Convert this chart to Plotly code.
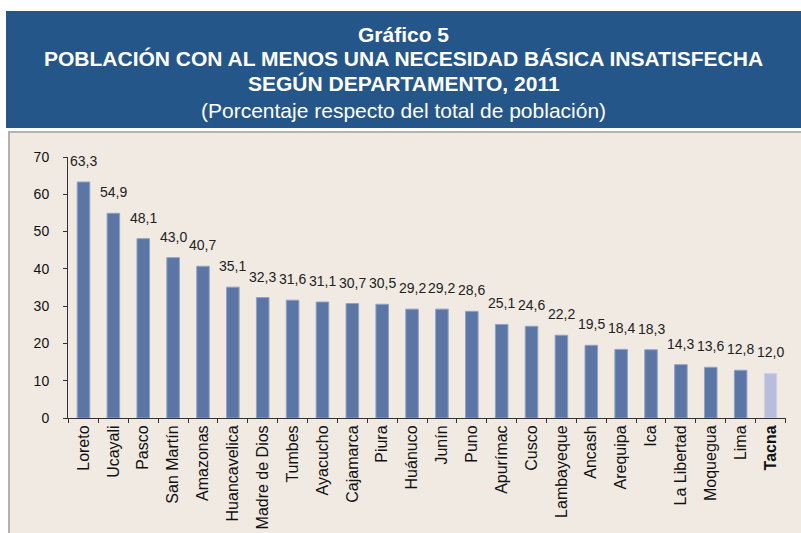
import plotly.graph_objects as go

departamentos = ["Loreto", "Ucayali", "Pasco", "San Martín", "Amazonas", "Huancavelica",
                 "Madre de Dios", "Tumbes", "Ayacucho", "Cajamarca", "Piura", "Huánuco",
                 "Junín", "Puno", "Apurímac", "Cusco", "Lambayeque", "Ancash", "Arequipa",
                 "Ica", "La Libertad", "Moquegua", "Lima", "Tacna"]
valores = [63.3, 54.9, 48.1, 43.0, 40.7, 35.1, 32.3, 31.6, 31.1, 30.7, 30.5, 29.2,
           29.2, 28.6, 25.1, 24.6, 22.2, 19.5, 18.4, 18.3, 14.3, 13.6, 12.8, 12.0]
destacado = "Tacna"
y_ticks = [0, 10, 20, 30, 40, 50, 60, 70]

W, H = 801, 533
L, R, T, B = 68, 15, 157, 115
PW, PH = W - L - R, H - T - B

def px_x(x):
    return (x - L) / PW

def px_y(y):
    return (H - B - y) / PH

FONT = "Liberation Sans, Arial"

colors = ["#b9bddb" if d == destacado else "#5b75a4" for d in departamentos]
lines = ["#d3d6ea" if d == destacado else "#8ea2c9" for d in departamentos]
tick_text = [f"<b>{d}</b>" if d == destacado else d for d in departamentos]

fig = go.Figure()
fig.add_trace(go.Bar(
    x=departamentos, y=valores,
    marker=dict(color=colors, line=dict(color=lines, width=1)),
    width=0.42, hoverinfo="skip",
))

for d, v in zip(departamentos, valores):
    fig.add_annotation(x=d, y=v, text=f"{v:.1f}".replace(".", ","), showarrow=False,
                       yanchor="bottom", yshift=11,
                       font=dict(family=FONT, size=14, color="#222"))

# header and panel
fig.add_shape(type="rect", xref="paper", yref="paper",
              x0=px_x(6), x1=px_x(W + 5), y0=px_y(128), y1=px_y(11),
              fillcolor="#25568a", line_width=0, layer="below")
fig.add_shape(type="rect", xref="paper", yref="paper",
              x0=px_x(9), x1=px_x(W + 5), y0=px_y(H + 5), y1=px_y(132),
              fillcolor="#f0eae3", line=dict(color="#b3b3b3", width=2), layer="below")

title_lines = [
    ("<b>Gráfico 5</b>", 34),
    ("<b>POBLACIÓN CON AL MENOS UNA NECESIDAD BÁSICA INSATISFECHA</b>", 59),
    ("<b>SEGÚN DEPARTAMENTO, 2011</b>", 83),
    ("(Porcentaje respecto del total de población)", 110),
]
for txt, yc in title_lines:
    fig.add_annotation(xref="paper", yref="paper",
                       x=px_x((W + 6) / 2), y=px_y(yc),
                       text=txt, showarrow=False, xanchor="center", yanchor="middle",
                       font=dict(family=FONT, size=21, color="white"))

fig.update_layout(
    width=W, height=H,
    margin=dict(l=L, r=R, t=T, b=B, autoexpand=False),
    paper_bgcolor="white", plot_bgcolor="rgba(0,0,0,0)",
    showlegend=False, bargap=0.58,
    xaxis=dict(tickangle=-90, tickmode="array", tickvals=departamentos, ticktext=tick_text,
               showline=True, linecolor="#333", linewidth=1, showgrid=False,
               ticks="outside", ticklen=4, tickcolor="#333", tickson="boundaries",
               tickfont=dict(family=FONT, size=16, color="#111"),
               fixedrange=True),
    yaxis=dict(range=[0, 70], tickvals=y_ticks, showline=True, linecolor="#333", linewidth=1,
               showgrid=False, zeroline=False, ticks="outside", ticklen=4, tickcolor="#333",
               ticklabelstandoff=11,
               tickfont=dict(family=FONT, size=14, color="#111"),
               fixedrange=True),
)

fig.write_html("out.html", config={"displayModeBar": False},
               post_script="document.body.style.margin='0';document.body.style.overflow='hidden';")
